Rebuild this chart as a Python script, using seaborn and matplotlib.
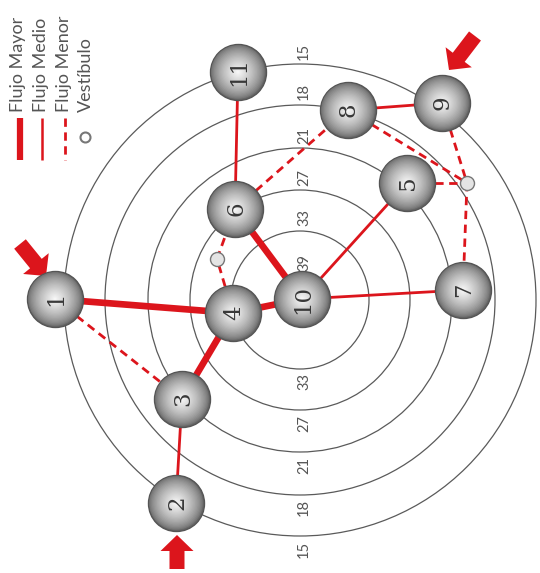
import numpy as np
import pandas as pd
import seaborn as sns
import matplotlib.pyplot as plt
from matplotlib.patches import Circle, FancyArrow
from matplotlib.colors import to_rgb

# nodes (pixel position on the sheet)
node_ids = ["1", "2", "3", "4", "5", "6", "7", "8", "9", "10", "11"]
node_x = [55, 176, 182, 233, 407, 235, 463, 348, 442, 302, 238]
node_y = [299, 503, 399, 313, 183, 209, 290, 110, 103, 299, 72]

# vestibules
vest_ids = ["va", "vb"]
vest_x = [217, 467]
vest_y = [259, 183]

# connections: (from, to, kind)
edge_from = ["1", "3", "4", "10", "3", "6", "10", "10", "8", "1", "4", "va", "6", "8", "9", "5", "vb"]
edge_to = ["4", "4", "10", "6", "2", "11", "5", "7", "9", "3", "va", "6", "8", "vb", "vb", "vb", "7"]
edge_kind = ["Mayor", "Mayor", "Mayor", "Mayor",
             "Medio", "Medio", "Medio", "Medio", "Medio",
             "Menor", "Menor", "Menor", "Menor", "Menor", "Menor", "Menor", "Menor"]

# rings
ring_labels = ["15", "18", "21", "27", "33", "39"]
ring_radius = [236, 195, 152, 110, 69, 24]
ring_center = (300, 300)

# entry arrows (tail -> head)
arrow_tail = [(20, 244), (475, 36), (177, 569)]
arrow_head = [(46, 276), (449, 70), (177, 535)]

RED = "#dc151c"

sns.set_style("white")
plt.rcParams["font.family"] = ["Lato", "DejaVu Sans"]

fig = plt.figure(figsize=(5.4, 5.73), dpi=100)
ax = fig.add_axes([0, 0, 1, 1])
ax.set_xlim(0, 540)
ax.set_ylim(573, 0)
ax.axis("off")

cx, cy = ring_center
for lab, r in zip(ring_labels, ring_radius):
    ax.add_patch(Circle((cx, cy), r, fill=False, ec="#5a5a5a", lw=0.9, zorder=1))
    ax.text(cx + 4, cy - r - 13, lab, rotation=90, ha="center", va="center",
            fontsize=10.5, color="#555555", zorder=6)
    if lab != "39":
        ax.text(cx + 4, cy + r + 13, lab, rotation=90, ha="center", va="center",
                fontsize=10.5, color="#555555", zorder=6)

pos = {n: (x, y) for n, x, y in zip(node_ids, node_x, node_y)}
pos.update({n: (x, y) for n, x, y in zip(vest_ids, vest_x, vest_y)})

rows = []
for i, (a, b, k) in enumerate(zip(edge_from, edge_to, edge_kind)):
    rows.append({"edge": i, "x": pos[a][0], "y": pos[a][1], "kind": k})
    rows.append({"edge": i, "x": pos[b][0], "y": pos[b][1], "kind": k})
edges = pd.DataFrame(rows)

sns.lineplot(data=edges, x="x", y="y", units="edge", estimator=None, sort=False,
             size="kind", sizes={"Mayor": 4.8, "Medio": 2.0, "Menor": 2.0},
             style="kind", dashes={"Mayor": "", "Medio": "", "Menor": (3, 2)},
             color=RED, legend=False, ax=ax, zorder=2)

for (x0, y0), (x1, y1) in zip(arrow_tail, arrow_head):
    ax.add_patch(FancyArrow(x0, y0, x1 - x0, y1 - y0, width=15, head_width=33,
                            head_length=16, length_includes_head=True,
                            color=RED, lw=0, zorder=3))

# shaded spheres
nodes = pd.DataFrame({"x": node_x, "y": node_y})
dark = np.array(to_rgb("#666666"))
light = np.array(to_rgb("#f6f6f6"))
diam = 2 * 28 * 0.72
steps = 22
for i in range(steps):
    f = i / (steps - 1)
    col = dark + (light - dark) * f ** 0.7
    s = (diam * (1 - 0.95 * f)) ** 2
    sns.scatterplot(data=nodes, x="x", y="y", s=s, color=col,
                    edgecolor="#555555" if i == 0 else "none",
                    linewidth=1.0 if i == 0 else 0, legend=False, ax=ax, zorder=4 + i * 0.01)

vest = pd.DataFrame({"x": vest_x, "y": vest_y})
sns.scatterplot(data=vest, x="x", y="y", s=(14 * 0.72) ** 2, color="#e4e4e4",
                edgecolor="#777777", linewidth=1.0, legend=False, ax=ax, zorder=4)

for n, x, y in zip(node_ids, node_x, node_y):
    ax.text(x + 1, y, n, rotation=90, ha="center", va="center", fontsize=16.5,
            family="DejaVu Serif", color="#383838", zorder=8)

# legend
leg_text = ["Flujo Mayor", "Flujo Medio", "Flujo Menor", "Vestíbulo"]
leg_x = [18, 41, 64, 86]
for t, x in zip(leg_text, leg_x):
    ax.text(x, 112, t, rotation=90, ha="center", va="bottom", fontsize=13,
            color="#555555")
ax.plot([20, 20], [118, 160], color=RED, lw=4.5, solid_capstyle="butt")
ax.plot([42, 42], [118, 160], color=RED, lw=1.8, solid_capstyle="butt")
ax.plot([65, 65], [118, 160], color=RED, lw=2.0, dashes=(3, 2))
ax.scatter([85], [137], s=(10 * 0.72) ** 2, color="white", edgecolor="#777777",
           linewidth=1.5, zorder=4)

fig.savefig("out.png", dpi=100)
